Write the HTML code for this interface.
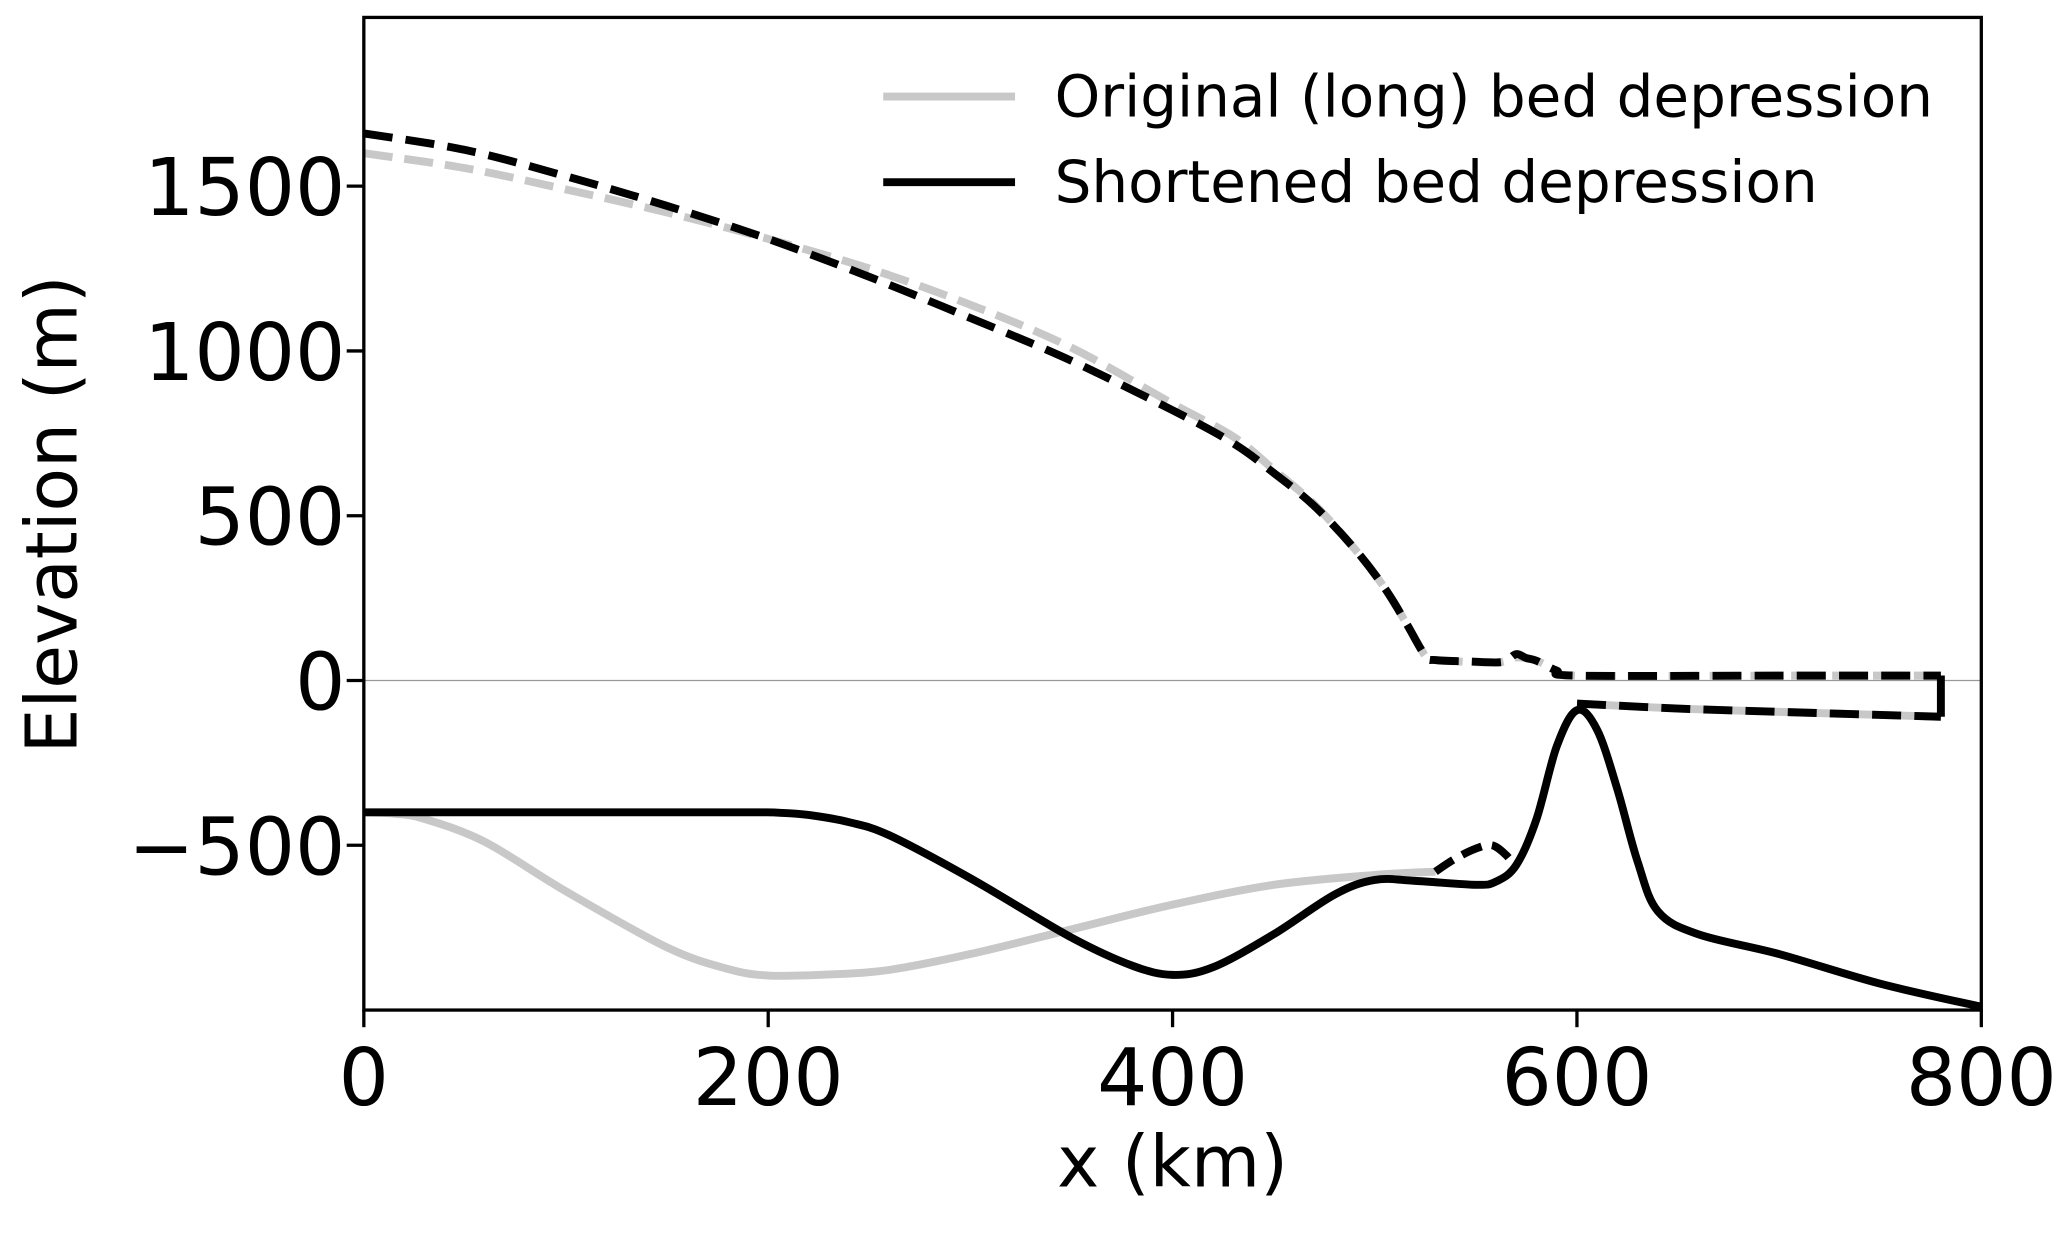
<!DOCTYPE html>
<html><head><meta charset="utf-8"><style>
html,body{margin:0;padding:0;background:#fff;}
svg{display:block;}
text{font-family:"DejaVu Sans","Liberation Sans",sans-serif;fill:#000;}
</style></head><body>
<svg id="chart" width="2067" height="1245" viewBox="0 0 1568 944" xmlns="http://www.w3.org/2000/svg">
<g id="plot"></g>
</svg>
<script>
const xTicks=[0,200,400,600,800];
const yTicks=[-500,0,500,1000,1500];
const yTickLabels=["\u2212500","0","500","1000","1500"];
const surfShortX=[0,50,100,150,200,250,300,350,400,430,450,470,490,505,515,525,530,545,560,565,570,575,580,590,600,700,780];
const surfShortY=[1660,1610,1530,1440,1340,1225,1100,970,820,720,630,530,400,280,180,75,62,58,55,60,80,68,60,30,15,15,15];
const surfLongX=[0,50,100,150,200,250,300,350,400,430,450,470,490,505,515,525,530,560,570,580,590,600,700,780];
const surfLongY=[1600,1555,1490,1420,1340,1250,1140,1010,840,740,640,535,400,280,180,75,62,55,70,60,30,15,15,15];
const shelfBotX=[600,650,700,780];
const shelfBotY=[-70,-85,-95,-110];
const bedShortX=[0,100,190,205,220,240,260,300,350,380,400,420,450,480,500,520,550,560,570,580,590,600,610,620,630,640,660,700,750,800];
const bedShortY=[-400,-400,-400,-401,-408,-430,-470,-600,-780,-865,-893,-870,-770,-650,-605,-608,-620,-610,-560,-420,-200,-90,-150,-330,-550,-700,-770,-830,-920,-990];
const bedLongX=[0,15,30,60,100,150,180,200,230,260,300,350,400,450,500,530];
const bedLongY=[-400,-404,-420,-490,-640,-810,-875,-895,-892,-878,-830,-755,-680,-620,-590,-580];
const bumpX=[530,540,550,558,565,570];
const bumpY=[-580,-540,-510,-500,-530,-570];

const L=276,R=1503,T=13,B=766;
const sx=v=>L+(v-0)/(800-0)*(R-L);
const sy=v=>516-(v)*0.25;
const g=document.getElementById('plot');
const NS='http://www.w3.org/2000/svg';
function mk(tag,attrs){const e=document.createElementNS(NS,tag);for(const k in attrs)e.setAttribute(k,attrs[k]);g.appendChild(e);return e;}
function smoothPath(xs,ys){
 const p=xs.map((x,i)=>[sx(x),sy(ys[i])]);
 let d='M'+p[0][0].toFixed(1)+','+p[0][1].toFixed(1);
 for(let i=0;i<p.length-1;i++){
  const p0=p[Math.max(0,i-1)],p1=p[i],p2=p[i+1],p3=p[Math.min(p.length-1,i+2)];
  const c1=[p1[0]+(p2[0]-p0[0])/6,p1[1]+(p2[1]-p0[1])/6];
  const c2=[p2[0]-(p3[0]-p1[0])/6,p2[1]-(p3[1]-p1[1])/6];
  d+=' C'+c1.map(v=>v.toFixed(1)).join(',')+' '+c2.map(v=>v.toFixed(1)).join(',')+' '+p2[0].toFixed(1)+','+p2[1].toFixed(1);
 }
 return d;
}

let zl=mk('line',{x1:L,x2:R,y1:sy(0),y2:sy(0),stroke:'#999','stroke-width':1});



function line(xs,ys,color,dash,name){
 const e=mk('path',{d:smoothPath(xs,ys),fill:'none',stroke:color,'stroke-width':6,'stroke-linejoin':'round'});
 if(dash)e.setAttribute('stroke-dasharray',dash);
 
 
}
line(bedLongX,bedLongY,'#c8c8c8',null,'bed-original');
line(surfLongX,surfLongY,'#c8c8c8','22 9','surface-original');
line(shelfBotX,shelfBotY,'#c8c8c8',null,'shelf-bottom-original');
line(bedShortX,bedShortY,'#000',null,'bed-shortened');
line(surfShortX,surfShortY,'#000','22 10','surface-shortened');
const closeX=[600].concat(shelfBotX.slice(1));
const closeY=[-70].concat(shelfBotY.slice(1));
line(closeX,closeY,'#000','22 10','shelf-bottom-shortened');
let edge=mk('line',{x1:sx(780),x2:sx(780),y1:sy(15),y2:sy(-110),stroke:'#000','stroke-width':6});


line(bumpX,bumpY,'#000','16 8','grounding-bump');

let fr=mk('rect',{x:L,y:T,width:R-L,height:B-T,fill:'none',stroke:'#000','stroke-width':2.5});



xTicks.forEach(v=>{
 const tk=mk('line',{x1:sx(v),x2:sx(v),y1:B,y2:B+13,stroke:'#000','stroke-width':2.5});
 
 
 const t=mk('text',{x:sx(v),y:838,'font-size':60,'text-anchor':'middle'});
 t.textContent=v;
 
 
});
yTicks.forEach((v,i)=>{
 const tk=mk('line',{x1:L-13,x2:L,y1:sy(v),y2:sy(v),stroke:'#000','stroke-width':2.5});
 
 
 const t=mk('text',{x:L-14,y:sy(v)+22,'font-size':60,'text-anchor':'end'});
 t.textContent=yTickLabels[i];
 
 
});
let xt=mk('text',{x:(L+R)/2,y:900,'font-size':54,'text-anchor':'middle'});
xt.textContent='x (km)';


let yt=mk('text',{x:0,y:0,'font-size':54,'text-anchor':'middle',transform:'translate(58,390) rotate(-90)'});
yt.textContent='Elevation (m)';



const legItems=[['Original (long) bed depression','#c8c8c8',73],['Shortened bed depression','#000',138]];
legItems.forEach(it=>{
 const l=mk('line',{x1:670,x2:770,y1:it[2],y2:it[2],stroke:it[1],'stroke-width':6});
 
 
 const t=mk('text',{x:800,y:it[2]+15,'font-size':44});
 t.textContent=it[0];
 
 
});
</script>
</body></html>
